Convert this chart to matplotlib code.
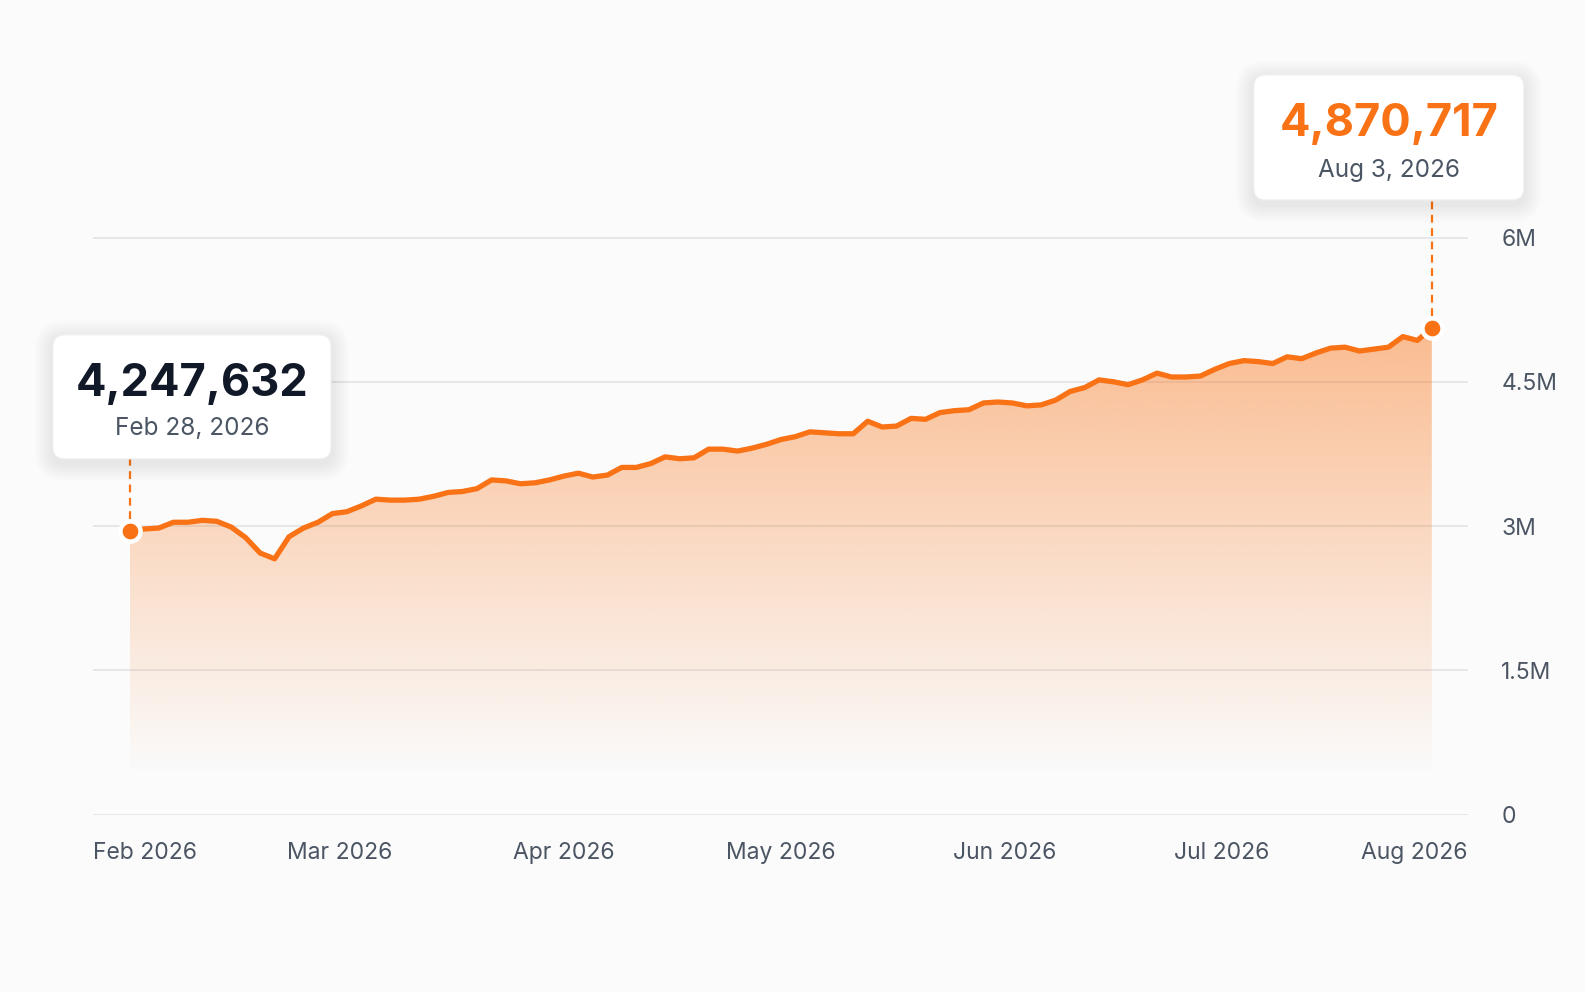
import numpy as np
import pandas as pd
import matplotlib
matplotlib.use("Agg")
import matplotlib.pyplot as plt
import matplotlib.dates as mdates
from matplotlib.patches import FancyBboxPatch, Polygon
from matplotlib.transforms import IdentityTransform

# valores (em milhoes), um ponto a cada 2 dias
data_inicio = "2026-01-31"
valores = [2.95, 2.97, 2.98, 3.04, 3.04, 3.06, 3.05, 2.99, 2.88, 2.72,
           2.66, 2.89, 2.98, 3.04, 3.13, 3.15, 3.21, 3.28, 3.27, 3.27,
           3.28, 3.31, 3.35, 3.36, 3.39, 3.48, 3.47, 3.44, 3.45, 3.48,
           3.52, 3.55, 3.51, 3.53, 3.61, 3.61, 3.65, 3.72, 3.70, 3.71,
           3.80, 3.80, 3.78, 3.81, 3.85, 3.90, 3.93, 3.98, 3.97, 3.96,
           3.96, 4.09, 4.03, 4.04, 4.12, 4.11, 4.18, 4.20, 4.21, 4.28,
           4.29, 4.28, 4.25, 4.26, 4.31, 4.40, 4.44, 4.52, 4.50, 4.47,
           4.52, 4.59, 4.55, 4.55, 4.56, 4.63, 4.69, 4.72, 4.71, 4.69,
           4.76, 4.74, 4.80, 4.85, 4.86, 4.82, 4.84, 4.86, 4.97, 4.93, 5.06]
datas = pd.date_range(data_inicio, periods=len(valores), freq="2D")

meses = ["2026-02-01", "2026-03-01", "2026-04-01", "2026-05-01",
         "2026-06-01", "2026-07-01", "2026-08-01"]
rotulos_meses = ["Feb 2026", "Mar 2026", "Apr 2026", "May 2026",
                 "Jun 2026", "Jul 2026", "Aug 2026"]
ticks_y = [0, 1.5, 3, 4.5, 6]
rotulos_y = ["0", "1.5M", "3M", "4.5M", "6M"]

rotulo_inicio = ["4,247,632", "Feb 28, 2026"]
rotulo_fim = ["4,870,717", "Aug 3, 2026"]

laranja = "#f97316"
cinza = "#4b5563"
escuro = "#111827"
fundo = "#fbfbfb"

plt.rcParams["font.family"] = ["Inter", "DejaVu Sans"]

fig = plt.figure(figsize=(15.85, 9.92), dpi=100, facecolor=fundo)
ax = fig.add_axes([0.05886, 0.17873, 0.86732, 0.82127])
ax.set_facecolor(fundo)

x = mdates.date2num(datas)
y = np.array(valores)

x_esq = x[0] - 5.07
x_dir = x[0] + 185.0

# area com gradiente
n_lin = 300
niveis = np.linspace(0, 6, n_lin)
alfa = 0.46 * np.clip((niveis - 0.4) / 4.6, 0, 1)
cor = matplotlib.colors.to_rgb(laranja)
img = np.zeros((n_lin, 2, 4))
img[:, :, 0] = cor[0]
img[:, :, 1] = cor[1]
img[:, :, 2] = cor[2]
img[:, :, 3] = alfa[:, None]
im = ax.imshow(img, extent=[x[0], x[-1], 0, 6], origin="lower",
               aspect="auto", zorder=1, interpolation="bilinear")
poli = Polygon(np.column_stack([np.r_[x[0], x, x[-1]], np.r_[0, y, 0]]),
               closed=True, facecolor="none", edgecolor="none")
ax.add_patch(poli)
im.set_clip_path(poli)
ax.set_xlim(x_esq, x_dir)
ax.set_ylim(0, 8.469)

ax.plot(x, y, color=laranja, lw=3.8, solid_joinstyle="round",
        solid_capstyle="round", zorder=3)

# grade e eixos
ax.set_yticks(ticks_y)
ax.set_yticklabels(rotulos_y)
ax.yaxis.tick_right()
ax.grid(axis="y", color="#e6e7ea", lw=1.4, zorder=0)
ax.set_axisbelow(True)
for s in ax.spines.values():
    s.set_visible(False)
ax.tick_params(axis="y", length=0, pad=24, labelsize=16.5, labelcolor=cinza)
ax.tick_params(axis="x", length=0, pad=20, labelsize=16.5, labelcolor=cinza)

pos_x = [x_esq] + list(mdates.date2num(pd.to_datetime(meses[1:-1]))) + [x_dir]
ax.set_xticks(pos_x)
ax.set_xticklabels(rotulos_meses)
labs = ax.get_xticklabels()
labs[0].set_ha("left")
labs[-1].set_ha("right")

# pontos das pontas
ax.plot([x[0], x[-1]], [y[0], y[-1]], "o", color=laranja, ms=14.5,
        mec="white", mew=3.2, zorder=6, clip_on=False)


def caixa(px, py, dx0, dx1, dy0, dy1):
    # caixa em pixels relativa ao ponto
    ident = IdentityTransform()
    w = dx1 - dx0
    h = dy1 - dy0
    for i in range(10):
        e = 2 + i * 1.8
        sombra = FancyBboxPatch((px + dx0 - e, py + dy0 - e - 4), w + 2 * e, h + 2 * e,
                                boxstyle="round,pad=0,rounding_size=%f" % (12 + e),
                                transform=ident, facecolor="black", edgecolor="none",
                                alpha=0.006, zorder=7)
        fig.patches.append(sombra)
    c = FancyBboxPatch((px + dx0, py + dy0), w, h,
                       boxstyle="round,pad=0,rounding_size=12",
                       transform=ident, facecolor="white", edgecolor="#f0f0f0",
                       lw=0.8, zorder=8)
    fig.patches.append(c)
    # linha tracejada ate o ponto
    fig.lines.append(matplotlib.lines.Line2D([px, px], [py + 12, py + dy0],
                                             transform=ident, color=laranja,
                                             lw=1.6, ls=(0, (3.5, 2.5)), zorder=7))
    return px + (dx0 + dx1) / 2


p0 = ax.transData.transform((x[0], y[0]))
p1 = ax.transData.transform((x[-1], y[-1]))

cx = caixa(p0[0], p0[1], -77, 201, 72, 196)
fig.text(cx / 1585, (p0[1] + 134.7) / 992, rotulo_inicio[0], ha="center",
         va="baseline", fontsize=32.5, fontweight="bold", color=escuro, zorder=9)
fig.text(cx / 1585, (p0[1] + 95.8) / 992, rotulo_inicio[1], ha="center",
         va="baseline", fontsize=17.5, color=cinza, zorder=9)

cx = caixa(p1[0], p1[1], -178, 92, 128, 253)
fig.text(cx / 1585, (p1[1] + 192.3) / 992, rotulo_fim[0], ha="center",
         va="baseline", fontsize=32.5, fontweight="bold", color=laranja, zorder=9)
fig.text(cx / 1585, (p1[1] + 150.8) / 992, rotulo_fim[1], ha="center",
         va="baseline", fontsize=17.5, color=cinza, zorder=9)

fig.savefig("out.png", dpi=100, facecolor=fundo)
